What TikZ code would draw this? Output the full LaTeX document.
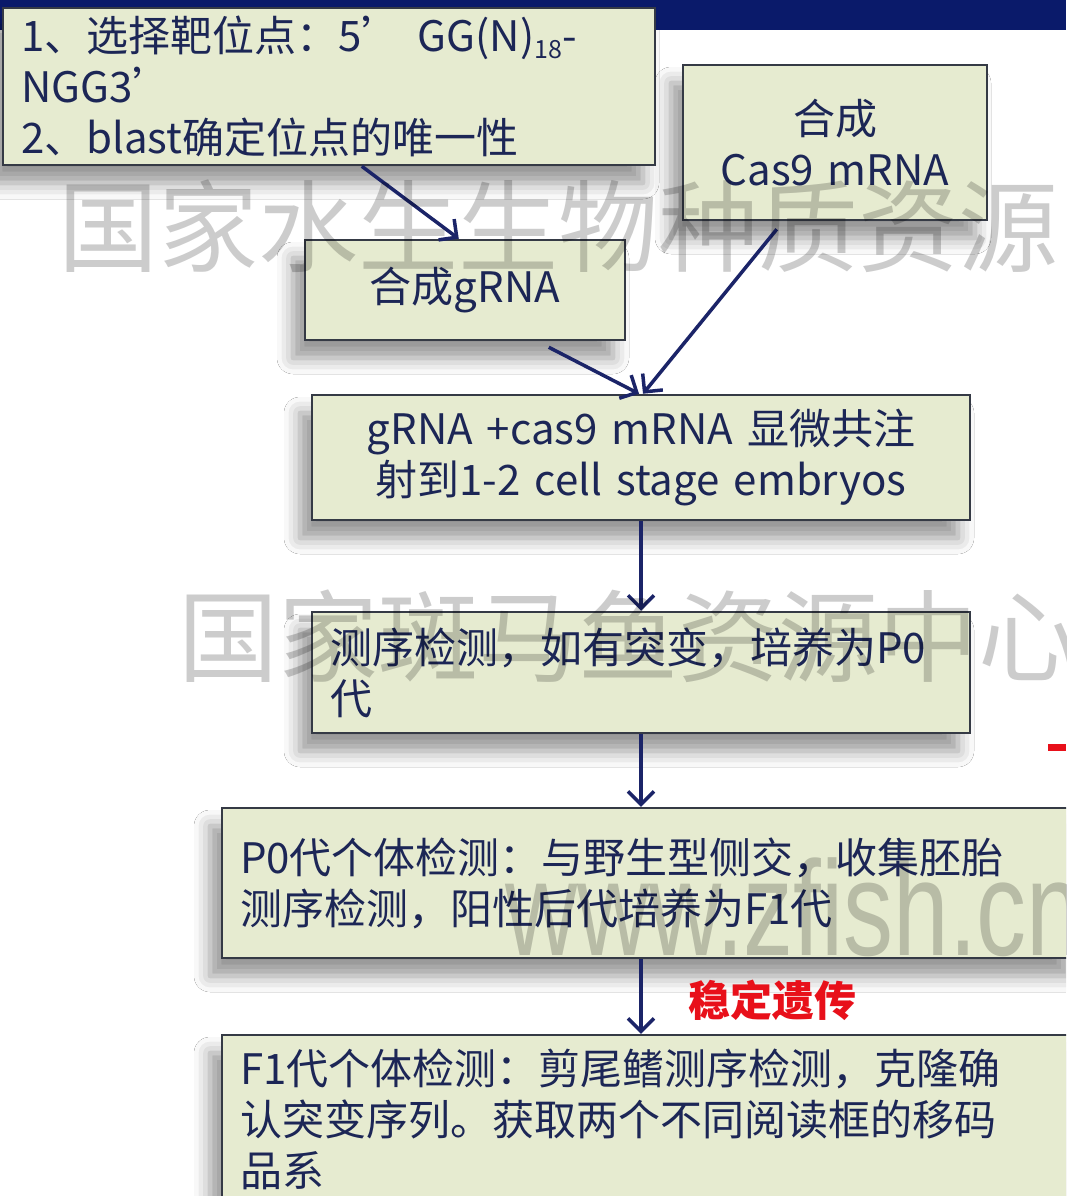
\documentclass[tikz,border=0pt]{standalone}
\usepackage{fontspec}
\setmainfont{Noto Sans CJK SC}
\newfontfamily\wmfont{Liberation Sans}
\usetikzlibrary{arrows.meta,shadows.blur,calc}
\definecolor{bandc}{HTML}{0A1A6A}
\definecolor{boxfill}{HTML}{E6EBD0}
\definecolor{boxline}{HTML}{353A45}
\definecolor{txtc}{HTML}{1C2656}
\definecolor{arrc}{HTML}{1B2468}
\definecolor{redc}{HTML}{E8101A}
\newcommand{\mysubs}[1]{\raisebox{-7pt}{\fontsize{25}{25}\selectfont #1}}
\tikzset{
  flowbox/.style={draw=boxline, line width=2.5pt, fill=boxfill, inner xsep=18pt, inner ysep=0pt,
    text=txtc, font=\fontsize{42}{51}\selectfont,
    blur shadow={shadow xshift=-12pt, shadow yshift=-18pt, shadow blur radius=16pt, shadow opacity=42}},
  flowarrow/.style={draw=arrc, line width=3.5pt, -{Straight Barb[length=13pt,width=26pt]}},
  watermark/.style={inner sep=0pt, text=black, opacity=0.2}
}
\begin{document}
\begin{tikzpicture}[x=1pt,y=-1pt]
\clip (0,0) rectangle (1066,1196);
\fill[white] (0,0) rectangle (1066,1196);
\fill[bandc] (0,0) rectangle (1066,30);
\fill[redc] (1048,744) rectangle (1066,751);

\node[flowbox, text width=616pt, minimum height=157pt, align=left] (b1) at (329,86.5)
  {1、选择靶位点：5’ GG(N)\mysubs{18}-\\NGG3’\\2、blast确定位点的唯一性};
\node[flowbox, text width=268pt, minimum height=155pt, align=center] (cas) at (835,142.5)
  {合成\\Cas9 mRNA};
\node[flowbox, text width=284pt, minimum height=100pt, align=center] (grna) at (465,290)
  {合成gRNA};
\node[flowbox, text width=622pt, minimum height=125pt, align=center] (inj) at (641,457.5)
  {gRNA +cas9 mRNA 显微共注\\射到1-2 cell stage embryos};
\node[flowbox, text width=622pt, minimum height=121pt, align=left] (seq) at (641,672.5)
  {测序检测，如有突变，培养为P0\\代};
\node[flowbox, text width=822pt, minimum height=150pt, align=left] (p0) at (651,883)
  {P0代个体检测：与野生型侧交，收集胚胎\\测序检测，阳性后代培养为F1代};
\node[flowbox, text width=822pt, minimum height=168pt, align=left] (f1) at (651,1119)
  {F1代个体检测：剪尾鳍测序检测，克隆确\\认突变序列。获取两个不同阅读框的移码\\品系};

\draw[flowarrow] ([xshift=360pt]b1.south west) -- ([xshift=155pt]grna.north west);
\draw[flowarrow] ([xshift=245pt,yshift=-6pt]grna.south west) -- ([xshift=-2pt]inj.north);
\draw[flowarrow] ([xshift=95pt,yshift=-8pt]cas.south west) -- ([xshift=2pt]inj.north);
\draw[flowarrow] (inj.south) -- (inj.south |- seq.north);
\draw[flowarrow] (seq.south) -- (seq.south |- p0.north);
\draw[flowarrow] (seq.south |- p0.south) -- (seq.south |- f1.north);

\node[font=\fontsize{42}{50}\selectfont\bfseries, text=redc] (lbl) at (772,1000) {稳定遗传};

\node[watermark, anchor=west, font=\fontsize{100}{100}\selectfont] (wm1) at (58,226) {国家水生生物种质资源};
\node[watermark, anchor=west, font=\fontsize{100}{100}\selectfont] (wm2) at (178,636) {国家斑马鱼资源中心};
\node[watermark, anchor=base west, font=\wmfont\fontsize{135}{135}\selectfont, xscale=0.74] (wm3) at (505,955) {www.zfish.cn};
\end{tikzpicture}
\end{document}
